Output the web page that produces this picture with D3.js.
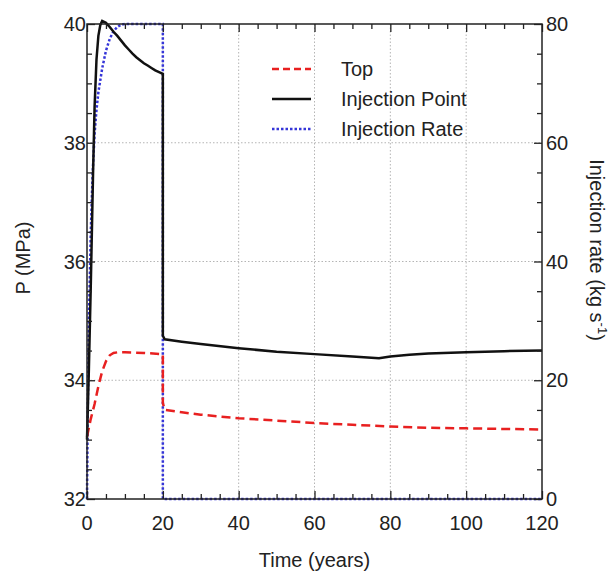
<!DOCTYPE html>
<html lang="en">
<head>
  <meta charset="UTF-8">
  <title>Pressure and injection rate</title>
  <script src="https://d3js.org/d3.v7.min.js"></script>
  <style>
    body { margin: 0; background: #fff; }
    svg { font-family: "Liberation Sans", Arial, sans-serif; }
    .tick-label { font-size: 20px; fill: #222; }
    .axis-title { font-size: 20px; fill: #222; }
    .grid line { stroke: #b5b5b5; stroke-width: 1; stroke-dasharray: 1.5,2; }
  </style>
</head>
<body>
<svg id="chart" width="616" height="578"></svg>
<script>
  // Top pressure (MPa)
  const topTime = [0, 0.5, 1, 2, 3, 4, 5, 6, 7, 8, 10, 15, 20, 20, 20.5, 25, 30, 40, 50, 60, 70, 80, 90, 100, 110, 120];
  const topP    = [33.05, 33.2, 33.35, 33.6, 33.9, 34.15, 34.32, 34.42, 34.46, 34.47, 34.47, 34.46, 34.44,
                   33.62, 33.5, 33.46, 33.42, 33.36, 33.32, 33.28, 33.25, 33.22, 33.2, 33.19, 33.18, 33.17];

  // Injection point pressure (MPa)
  const injTime = [0, 0.5, 1, 1.6, 2, 2.5, 3, 3.5, 4, 5, 6, 7, 8, 9, 10, 11, 12, 13, 14, 15, 16, 17, 18, 19, 20,
                   20, 20.5, 25, 30, 40, 50, 60, 70, 77, 80, 85, 90, 100, 110, 120];
  const injP    = [33.0, 34.2, 35.6, 37.5, 38.6, 39.4, 39.8, 39.98, 40.05, 40.02, 39.95, 39.87, 39.8, 39.72, 39.64,
                   39.57, 39.5, 39.44, 39.39, 39.34, 39.3, 39.26, 39.22, 39.19, 39.16,
                   34.75, 34.69, 34.65, 34.61, 34.54, 34.48, 34.44, 34.4, 34.37, 34.4, 34.43, 34.45, 34.47, 34.49, 34.5];

  // Injection rate (kg/s)
  const rateTime = [0, 0.2, 0.5, 1, 1.5, 2, 2.5, 3, 4, 5, 6, 7, 8, 9, 10, 20, 20, 120];
  const rate     = [0, 15, 30, 45, 55, 61.5, 65.5, 68.5, 72.5, 75.5, 77.5, 78.8, 79.5, 79.9, 80, 80, 0, 0];

  const xTicks = [0, 20, 40, 60, 80, 100, 120];
  const pTicks = [32, 34, 36, 38, 40];
  const rateTicks = [0, 20, 40, 60, 80];

  const legendNames = ["Top", "Injection Point", "Injection Rate"];

  const plotL = 87, plotR = 542, plotT = 24, plotB = 499;
  const svg = d3.select("#chart");

  const x  = d3.scaleLinear().domain([0, 120]).range([plotL, plotR]);
  const yP = d3.scaleLinear().domain([32, 40]).range([plotB, plotT]);
  const yR = d3.scaleLinear().domain([0, 80]).range([plotB, plotT]);

  // grid
  const grid = svg.append("g").attr("class", "grid");
  grid.selectAll(".gx").data(xTicks.slice(1, -1)).enter().append("line")
    .attr("x1", d => x(d)).attr("x2", d => x(d)).attr("y1", plotT).attr("y2", plotB);
  grid.selectAll(".gy").data(pTicks.slice(1, -1)).enter().append("line")
    .attr("y1", d => yP(d)).attr("y2", d => yP(d)).attr("x1", plotL).attr("x2", plotR);

  // series
  const lineTop  = d3.line().x((d, i) => x(topTime[i])).y(d => yP(d));
  const lineInj  = d3.line().x((d, i) => x(injTime[i])).y(d => yP(d));
  const lineRate = d3.line().x((d, i) => x(rateTime[i])).y(d => yR(d));

  const plot = svg.append("g");
  plot.append("path").datum(rate).attr("d", lineRate)
    .attr("fill", "none").attr("stroke", "#3535d8").attr("stroke-width", 2.5).attr("stroke-dasharray", "2.5,2");
  plot.append("path").datum(topP).attr("d", lineTop)
    .attr("fill", "none").attr("stroke", "#e82020").attr("stroke-width", 2.5).attr("stroke-dasharray", "9,5");
  plot.append("path").datum(injP).attr("d", lineInj)
    .attr("fill", "none").attr("stroke", "#111").attr("stroke-width", 2.5);

  // inward tick marks (MATLAB style) on all four sides, drawn with d3 axes
  const xMinor = d3.range(0, 121, 5).filter(v => v % 20 !== 0);
  const pMinor = d3.range(0, 17).map(i => 32 + i * 0.5).filter(v => v % 2 !== 0);
  function ticks(axis, tx, ty) {
    const g = svg.append("g").attr("transform", `translate(${tx},${ty})`).call(axis);
    g.select(".domain").remove();
    g.selectAll("text").remove();
    g.selectAll("line").attr("stroke", "#222").attr("stroke-width", 1.3);
  }
  ticks(d3.axisBottom(x).tickValues(xTicks).tickSize(-8), 0, plotB);
  ticks(d3.axisBottom(x).tickValues(xMinor).tickSize(-5), 0, plotB);
  ticks(d3.axisTop(x).tickValues(xTicks).tickSize(-8), 0, plotT);
  ticks(d3.axisTop(x).tickValues(xMinor).tickSize(-5), 0, plotT);
  ticks(d3.axisLeft(yP).tickValues(pTicks).tickSize(-8), plotL, 0);
  ticks(d3.axisLeft(yP).tickValues(pMinor).tickSize(-5), plotL, 0);
  ticks(d3.axisRight(yP).tickValues(pTicks).tickSize(-8), plotR, 0);
  ticks(d3.axisRight(yP).tickValues(pMinor).tickSize(-5), plotR, 0);

  // frame
  svg.append("rect").attr("x", plotL).attr("y", plotT).attr("width", plotR - plotL).attr("height", plotB - plotT)
    .attr("fill", "none").attr("stroke", "#222").attr("stroke-width", 1.5);

  // tick labels
  svg.selectAll(".xl").data(xTicks).enter().append("text")
    .attr("class", "tick-label").attr("x", d => x(d)).attr("y", 530)
    .attr("text-anchor", "middle").text(d => d);
  svg.selectAll(".pl").data(pTicks).enter().append("text")
    .attr("class", "tick-label").attr("x", 86).attr("y", d => yP(d) + 7)
    .attr("text-anchor", "end").text(d => d);
  svg.selectAll(".rl").data(rateTicks).enter().append("text")
    .attr("class", "tick-label").attr("x", 546).attr("y", d => yR(d) + 7)
    .attr("text-anchor", "start").text(d => d);

  // axis titles
  svg.append("text").attr("class", "axis-title").attr("x", (plotL + plotR) / 2).attr("y", 567)
    .attr("text-anchor", "middle").text("Time (years)");
  svg.append("text").attr("class", "axis-title")
    .attr("transform", "translate(30,258) rotate(-90)").attr("text-anchor", "middle").text("P (MPa)");
  const rt = svg.append("text").attr("class", "axis-title")
    .attr("transform", "translate(590,250) rotate(90)").attr("text-anchor", "middle");
  rt.append("tspan").text("Injection rate (kg s");
  rt.append("tspan").attr("dy", -8).attr("font-size", 13).text("-1");
  rt.append("tspan").attr("dy", 8).text(")");

  // legend
  const legStyles = [
    { stroke: "#e82020", dash: "7,4" },
    { stroke: "#111", dash: null },
    { stroke: "#3535d8", dash: "2.5,2" }
  ];
  const leg = svg.append("g");
  legendNames.forEach((name, i) => {
    const cy = 69 + i * 30;
    leg.append("line").attr("x1", 272).attr("x2", 311).attr("y1", cy).attr("y2", cy)
      .attr("stroke", legStyles[i].stroke).attr("stroke-width", 2.5)
      .attr("stroke-dasharray", legStyles[i].dash);
    leg.append("text").attr("class", "tick-label").attr("x", 341).attr("y", cy + 7).text(name);
  });
</script>
</body>
</html>
